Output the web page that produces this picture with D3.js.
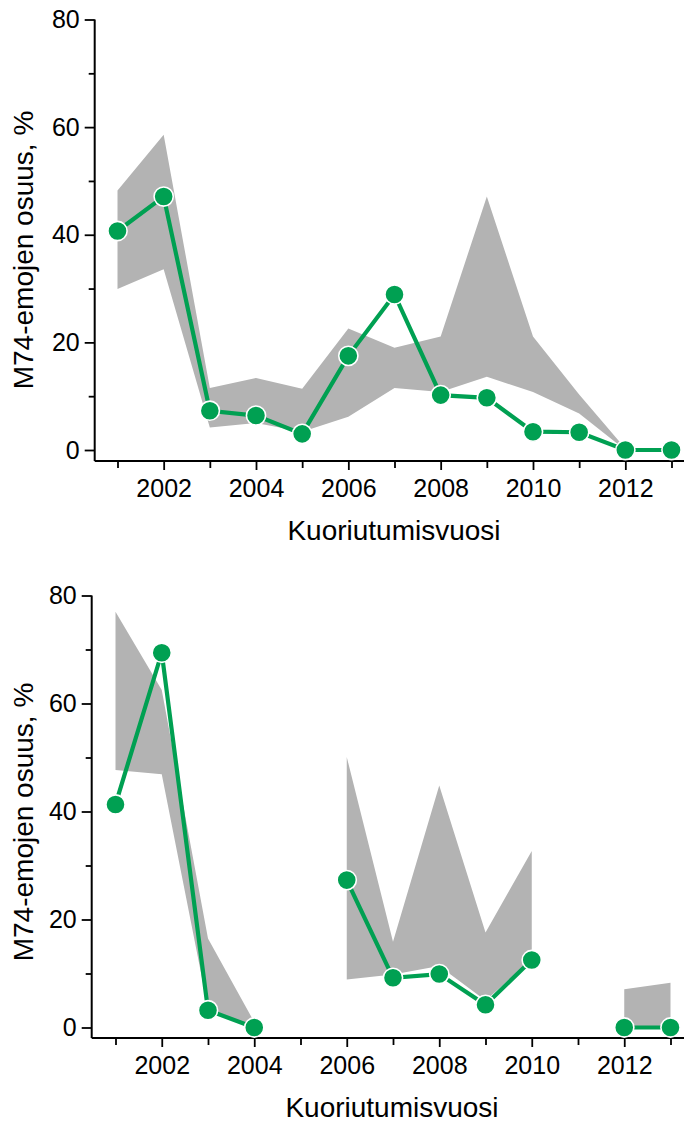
<!DOCTYPE html>
<html>
<head>
<meta charset="utf-8">
<script src="https://cdn.jsdelivr.net/npm/d3@7"></script>
<style>
  html, body { margin: 0; padding: 0; background: #fff; }
  svg { display: block; }
  text { font-family: "Liberation Sans", Arial, sans-serif; fill: #000; }
</style>
</head>
<body>
<svg id="chart" width="687" height="1124"></svg>
<script>
// Hatching years
const years = [2001, 2002, 2003, 2004, 2005, 2006, 2007, 2008, 2009, 2010, 2011, 2012, 2013];

// Upper panel: share of M74 females (%) with its uncertainty band
const shareA = [40.7, 47.1, 7.3, 6.4, 3.0, 17.5, 28.9, 10.2, 9.7, 3.4, 3.3, 0, 0];
const lowA   = [29.9, 33.6, 4.2, 5.0, 3.4, 6.2, 11.5, 10.8, 13.6, 10.8, 6.8, 0, null];
const highA  = [48.2, 58.6, 11.5, 13.4, 11.4, 22.6, 19.0, 21.1, 47.1, 21.1, 10.3, 0.3, null];

// Lower panel: years without data are null
const shareB = [41.3, 69.4, 3.2, 0, null, 27.3, 9.2, 9.9, 4.2, 12.5, null, 0, 0];
const lowB   = [47.7, 46.9, 3.5, 0, null, 8.9, 9.8, 11.4, 5.0, 12.5, null, 0, 0];
const highB  = [77.0, 62.5, 16.5, 1.0, null, 50.1, 15.9, 44.8, 17.6, 32.7, null, 7.1, 8.3];

// Axis ticks
const yMajor = [0, 20, 40, 60, 80];
const yMinor = [10, 30, 50, 70];
const xMajor = [2002, 2004, 2006, 2008, 2010, 2012];
const xMinor = [2001, 2003, 2005, 2007, 2009, 2011, 2013];

const yTitle = "M74-emojen osuus, %";
const xTitle = "Kuoriutumisvuosi";

const GREEN = "#00a052";
const BAND = "#b3b3b3";

const svg = d3.select("#chart");

function panel(cfg) {
  const x = d3.scaleLinear().domain([2001, 2013]).range([cfg.x0, cfg.x1]);
  const y = d3.scaleLinear().domain([0, 80]).range([cfg.y0, cfg.y80]);
  const g = svg.append("g");

  const rows = years.map((yr, i) => ({ yr, v: cfg.share[i], lo: cfg.low[i], hi: cfg.high[i] }));

  // uncertainty band
  const area = d3.area()
    .defined(d => d.lo != null && d.hi != null)
    .x(d => x(d.yr)).y0(d => y(d.lo)).y1(d => y(d.hi));
  g.append("path").datum(rows).attr("d", area).attr("fill", BAND);

  // axes
  const axisY = cfg.axisY;
  const yAxis = g.append("g").attr("transform", `translate(${cfg.ax},0)`)
    .call(d3.axisLeft(y).tickValues(yMajor).tickSize(10).tickPadding(5).tickSizeOuter(0));
  g.append("g").attr("transform", `translate(${cfg.ax},0)`)
    .call(d3.axisLeft(y).tickValues(yMinor).tickSize(6).tickFormat("").tickSizeOuter(0))
    .select(".domain").remove();
  yAxis.select(".domain").remove();
  g.append("line").attr("x1", cfg.ax).attr("x2", cfg.ax)
    .attr("y1", y(80)).attr("y2", axisY)
    .attr("stroke", "#000").attr("stroke-width", 2);

  const xAxis = g.append("g").attr("transform", `translate(0,${axisY})`)
    .call(d3.axisBottom(x).tickValues(xMajor).tickFormat(d3.format("d")).tickSize(9).tickPadding(9).tickSizeOuter(0));
  xAxis.select(".domain").remove();
  g.append("g").attr("transform", `translate(0,${axisY})`)
    .call(d3.axisBottom(x).tickValues(xMinor).tickSize(7).tickFormat("").tickSizeOuter(0))
    .select(".domain").remove();
  g.append("line").attr("x1", cfg.ax).attr("x2", cfg.axEnd)
    .attr("y1", axisY).attr("y2", axisY)
    .attr("stroke", "#000").attr("stroke-width", 2);

  g.selectAll(".tick line").attr("stroke", "#000").attr("stroke-width", 1.8);
  g.selectAll(".tick text").attr("font-size", 25)
    .attr("font-family", "'Liberation Sans', Arial, sans-serif").attr("fill", "#000");

  // share line, broken where data is missing
  const line = d3.line().defined(d => d.v != null).x(d => x(d.yr)).y(d => y(d.v));
  g.append("path").datum(rows).attr("d", line)
    .attr("fill", "none").attr("stroke", GREEN).attr("stroke-width", 4.2)
    .attr("stroke-linejoin", "miter");

  g.selectAll("circle.pt").data(rows.filter(d => d.v != null)).join("circle")
    .attr("class", "pt")
    .attr("cx", d => x(d.yr)).attr("cy", d => y(d.v)).attr("r", 9.6)
    .attr("fill", GREEN).attr("stroke", "#fff").attr("stroke-width", 1.6);

  // titles
  g.append("text").attr("x", cfg.titleX).attr("y", cfg.titleY)
    .attr("text-anchor", "middle").attr("font-size", 28).text(xTitle);
  g.append("text")
    .attr("transform", `translate(${cfg.ylabX},${cfg.ylabY}) rotate(-90)`)
    .attr("text-anchor", "middle").attr("font-size", 28).text(yTitle);
}

panel({
  share: shareA, low: lowA, high: highA,
  x0: 117.5, x1: 671.5, y0: 450, y80: 19.5,
  ax: 94.7, axisY: 461, axEnd: 684,
  titleX: 394, titleY: 540, ylabX: 33, ylabY: 250
});

panel({
  share: shareB, low: lowB, high: highB,
  x0: 115.5, x1: 670.5, y0: 1027.5, y80: 595.5,
  ax: 91.7, axisY: 1038, axEnd: 684,
  titleX: 392, titleY: 1117, ylabX: 33, ylabY: 822
});
</script>
</body>
</html>
